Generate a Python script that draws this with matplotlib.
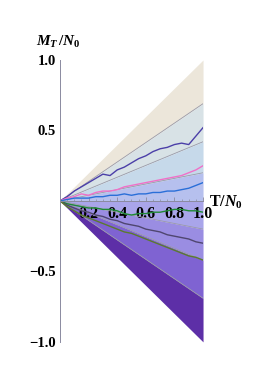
import numpy as np
import matplotlib.pyplot as plt

plt.rcParams['mathtext.fontset'] = 'custom'
plt.rcParams['mathtext.it'] = 'Liberation Serif:italic:bold'
plt.rcParams['mathtext.rm'] = 'Liberation Serif:bold'
plt.rcParams['font.family'] = 'Liberation Serif'

# wedge boundaries (slope at T/N0 = 1) and fill colours, top to bottom
bordes = [1.0, 0.69, 0.42, 0.2, 0.0, -0.2, -0.42, -0.69, -1.0]
colores = ['#ece6da', '#d8e2e6', '#c6d9ea', '#b6c0ee',
           '#a9a5ea', '#9a8de2', '#7f63d2', '#5d2fa7']

# sampled walks
t = np.array([0, 0.05, 0.1, 0.15, 0.2, 0.25, 0.3, 0.35, 0.4, 0.45, 0.5,
              0.55, 0.6, 0.65, 0.7, 0.75, 0.8, 0.85, 0.9, 0.95, 1.0])
m_morado = [0, 0.03, 0.07, 0.10, 0.13, 0.16, 0.19, 0.18, 0.22, 0.24, 0.27,
            0.30, 0.32, 0.35, 0.37, 0.38, 0.40, 0.41, 0.40, 0.46, 0.52]
m_rosa = [0, 0.02, 0.03, 0.05, 0.04, 0.06, 0.07, 0.07, 0.08, 0.10, 0.11,
          0.12, 0.13, 0.14, 0.15, 0.16, 0.17, 0.18, 0.20, 0.22, 0.25]
m_azul = [0, 0.01, 0.02, 0.02, 0.02, 0.03, 0.03, 0.04, 0.04, 0.05, 0.04,
          0.05, 0.05, 0.06, 0.06, 0.07, 0.07, 0.08, 0.09, 0.11, 0.13]
m_verde = [0, -0.02, -0.03, -0.04, -0.05, -0.05, -0.06, -0.06, -0.07, -0.09, -0.10,
           -0.09, -0.09, -0.08, -0.08, -0.07, -0.06, -0.06, -0.07, -0.07, -0.08]
m_gris = [0, -0.03, -0.05, -0.07, -0.08, -0.10, -0.11, -0.13, -0.14, -0.16, -0.17,
          -0.18, -0.20, -0.21, -0.22, -0.24, -0.25, -0.26, -0.27, -0.29, -0.30]
m_oliva = [0, -0.04, -0.07, -0.10, -0.12, -0.14, -0.16, -0.18, -0.20, -0.22, -0.23,
           -0.25, -0.27, -0.29, -0.31, -0.33, -0.35, -0.37, -0.39, -0.40, -0.42]

fig = plt.figure(figsize=(2.7, 3.82), dpi=100)
ax = fig.add_axes([0.222, 0.105, 0.53, 0.738])

xx = np.array([0, 1])
for i in range(len(colores)):
    ax.fill_between(xx, bordes[i] * xx, bordes[i + 1] * xx, color=colores[i], lw=0)
for b in [0.69, 0.42, 0.2, -0.2, -0.42, -0.69]:
    ax.plot(xx, b * xx, color='#9a9aa8', lw=0.6)

ax.plot(t, m_morado, color='#4b3fa8', lw=1)
ax.plot(t, m_rosa, color='#f070c8', lw=1)
ax.plot(t, m_azul, color='#2a6fd8', lw=1)
ax.plot(t, m_verde, color='#1f8a35', lw=1)
ax.plot(t, m_gris, color='#4f4670', lw=1)
ax.plot(t, m_oliva, color='#5b7a2e', lw=1)

ax.set_xlim(0, 1)
ax.set_ylim(-1, 1)
ax.spines['top'].set_visible(False)
ax.spines['right'].set_visible(False)
ax.spines['bottom'].set_position(('data', 0))
ax.spines['left'].set_color('#8a8aa0')
ax.spines['bottom'].set_color('#8a8aa0')
ax.spines['left'].set_linewidth(0.7)
ax.spines['bottom'].set_linewidth(0.7)

ax.set_xticks([0.2, 0.4, 0.6, 0.8, 1.0])
ax.set_xticklabels(['0.2', '0.4', '0.6', '0.8', '1.0'], fontweight='bold', fontsize=11.5)
ax.set_xticks(np.arange(0.05, 1.0, 0.05), minor=True)
ax.set_yticks([1.0, 0.5, -0.5, -1.0])
ax.set_yticklabels(['1.0', '0.5', '\u22120.5', '\u22121.0'], fontweight='bold', fontsize=10.5)
ax.tick_params(axis='x', direction='in', length=3, width=0.6, color='#8a8aa0', pad=4)
ax.tick_params(axis='x', which='minor', direction='in', length=1.5, width=0.5, color='#8a8aa0')
ax.tick_params(axis='y', direction='in', length=0, pad=3)

fig.text(0.215, 0.89, r'$M_T\,/N_0$', fontsize=11, ha='center', va='center')
fig.text(0.775, 0.47, r'$\mathrm{T}/N_0$', fontsize=11.5, ha='left', va='center')

plt.savefig('out.png', dpi=100)
